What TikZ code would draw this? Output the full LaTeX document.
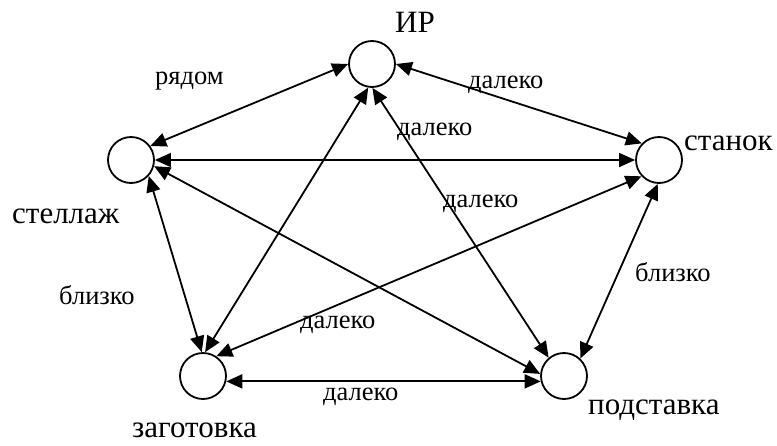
\documentclass[tikz,border=0pt]{standalone}
\usepackage{fontspec}
\setmainfont{Liberation Serif}
\newfontfamily\rufont{Liberation Serif}
\usetikzlibrary{arrows.meta}
\begin{document}
\begin{tikzpicture}[x=1pt,y=-1pt,
  vert/.style={circle,draw,line width=1.8pt,minimum size=46pt,inner sep=0pt},
  big/.style={font=\rufont\fontsize{31}{33}\selectfont,inner sep=0pt,anchor=base west},
  small/.style={font=\rufont\fontsize{26.5}{28}\selectfont,inner sep=0pt,anchor=base west},
  link/.style={line width=1.8pt,{Triangle[length=16pt,width=14pt]}-{Triangle[length=16pt,width=14pt]}}]
\useasboundingbox (0,0) rectangle (777,445);
\node[vert] (ir) at (372,64) {};
\node[vert] (st) at (131,160) {};
\node[vert] (sn) at (659,160) {};
\node[vert] (zg) at (203,376) {};
\node[vert] (ps) at (564,376) {};
\draw[link] (st.36) -- (ir.180);
\draw[link] (ir.0) -- (sn.136);
\draw[link] (st.0) -- (sn.180);
\draw[link] (ir.-99) -- (zg.85);
\draw[link] (ir.-89) -- (ps.130);
\draw[link] (st.-42) -- (zg.93);
\draw[link] (st.-15) -- (ps.175);
\draw[link] (sn.-137) -- (zg.56);
\draw[link] (sn.-93) -- (ps.47);
\draw[link] (zg.-13) -- (ps.-167);
\node[big] (lir) at (395,32) {ИР};
\node[big] (lst) at (12,223) {стеллаж};
\node[big] (lsn) at (684,150) {станок};
\node[big] (lzg) at (132,437) {заготовка};
\node[big] (lps) at (588,414) {подставка};
\node[small] (e1) at (155,84) {рядом};
\node[small] (e2) at (468,88) {далеко};
\node[small] (e3) at (397,135) {далеко};
\node[small] (e4) at (443,207) {далеко};
\node[small] (e5) at (59,304) {близко};
\node[small] (e6) at (300,328) {далеко};
\node[small] (e7) at (323,400) {далеко};
\node[small] (e8) at (635,281) {близко};
\end{tikzpicture}
\end{document}
